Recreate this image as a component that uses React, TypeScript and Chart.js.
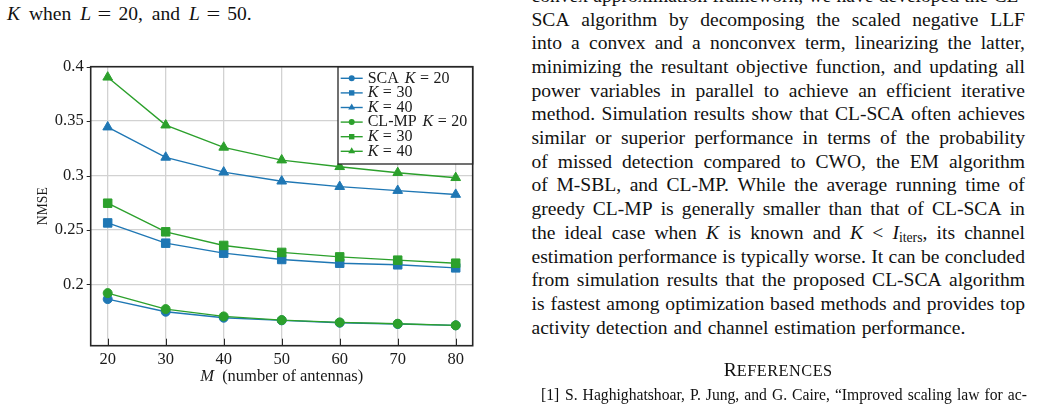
import React, { useEffect, useRef } from "react";
import { Chart, registerables } from "chart.js";

Chart.register(...registerables);

// ---------- chart data ----------
const antennas = [20, 30, 40, 50, 60, 70, 80];
const scaK20 = [0.1865, 0.1749, 0.1694, 0.167, 0.1648, 0.1636, 0.1624];
const scaK30 = [0.2565, 0.2379, 0.2287, 0.2229, 0.2195, 0.218, 0.2152];
const scaK40 = [0.3445, 0.3167, 0.3031, 0.2948, 0.2898, 0.2862, 0.2826];
const clmpK20 = [0.192, 0.1773, 0.1706, 0.1672, 0.1651, 0.1639, 0.1624];
const clmpK30 = [0.2746, 0.2483, 0.2358, 0.2294, 0.2253, 0.2223, 0.2195];
const clmpK40 = [0.3903, 0.3463, 0.3259, 0.3142, 0.3081, 0.3026, 0.298];
const seriesLabels = ["SCA K = 20", "K = 30", "K = 40", "CL-MP K = 20", "K = 30", "K = 40"];
const xTicks = [20, 30, 40, 50, 60, 70, 80];
const yTicks = [0.2, 0.25, 0.3, 0.35, 0.4];
const xTitle = "(number of antennas)";
const yTitle = "NMSE";

// ---------- page text ----------
const leftLine = "*K* when *L* = 20, and *L* = 50.";
const bodyLines = [
  "convex approximation framework, we have developed the CL-",
  "SCA algorithm by decomposing the scaled negative LLF",
  "into a convex and a nonconvex term, linearizing the latter,",
  "minimizing the resultant objective function, and updating all",
  "power variables in parallel to achieve an efficient iterative",
  "method. Simulation results show that CL-SCA often achieves",
  "similar or superior performance in terms of the probability",
  "of missed detection compared to CWO, the EM algorithm",
  "of M-SBL, and CL-MP. While the average running time of",
  "greedy CL-MP is generally smaller than that of CL-SCA in",
  "the ideal case when *K* is known and *K* < *I*~iters~, its channel",
  "estimation performance is typically worse. It can be concluded",
  "from simulation results that the proposed CL-SCA algorithm",
  "is fastest among optimization based methods and provides top",
  "activity detection and channel estimation performance.",
];
const refLine = "S. Haghighatshoar, P. Jung, and G. Caire, \u201cImproved scaling law for ac-";

const BLUE = "#1f77b4";
const GREEN = "#2ca02c";
const FONT = '"Liberation Serif", "Times New Roman", serif';

function rich(s: string) {
  const parts = s.split(/(\*[^*]+\*|~[^~]+~| = )/).filter((p) => p.length > 0);
  return parts.map((p, i) => {
    if (p === " = ")
      return (
        <span key={i} style={{ margin: "0 0.42em", display: "inline-block", transform: "scaleX(1.25)" }}>
          =
        </span>
      );
    if (p.startsWith("*")) return <i key={i}>{p.slice(1, -1)}</i>;
    if (p.startsWith("~"))
      return (
        <sub key={i} style={{ fontSize: "0.7em", verticalAlign: "-0.22em", lineHeight: 0 }}>
          {p.slice(1, -1)}
        </sub>
      );
    return <React.Fragment key={i}>{p}</React.Fragment>;
  });
}

const drawMarker = (ctx: CanvasRenderingContext2D, style: string, x: number, y: number, r: number) => {
  ctx.beginPath();
  if (style === "circle") {
    ctx.arc(x, y, r, 0, Math.PI * 2);
  } else if (style === "rect") {
    const s = r * Math.SQRT1_2;
    ctx.rect(x - s, y - s, 2 * s, 2 * s);
  } else {
    for (let k = 0; k < 3; k++) {
      const a = (k * 2 * Math.PI) / 3;
      const px = x + Math.sin(a) * r;
      const py = y - Math.cos(a) * r;
      if (k === 0) ctx.moveTo(px, py);
      else ctx.lineTo(px, py);
    }
    ctx.closePath();
  }
  ctx.fill();
};

const paperPlugin = {
  id: "paperDecor",
  afterDatasetsDraw(chart: any) {
    const { ctx, chartArea: a, scales } = chart;
    ctx.save();
    // tick marks
    ctx.strokeStyle = "#262626";
    ctx.lineWidth = 1;
    xTicks.forEach((v) => {
      const x = Math.round(scales.x.getPixelForValue(v)) + 0.5;
      ctx.beginPath();
      ctx.moveTo(x, a.bottom);
      ctx.lineTo(x, a.bottom - 7);
      ctx.stroke();
    });
    yTicks.forEach((v) => {
      const y = Math.round(scales.y.getPixelForValue(v)) + 0.5;
      ctx.beginPath();
      ctx.moveTo(a.left - 4, y);
      ctx.lineTo(a.left, y);
      ctx.stroke();
    });
    // legend
    const boxW = 134.7;
    const boxH = 97.3;
    const bx = a.right - boxW;
    const by = a.top;
    ctx.fillStyle = "#ffffff";
    ctx.fillRect(bx, by, boxW, boxH);
    ctx.lineWidth = 1.3;
    ctx.strokeStyle = "#262626";
    ctx.strokeRect(bx, by, boxW, boxH);
    const legendSizes: Record<string, number> = { circle: 3, rect: 3.8, triangle: 4 };
    chart.data.datasets.forEach((ds: any, i: number) => {
      const y = by + 11.6 + i * 14.6;
      ctx.strokeStyle = ds.borderColor;
      ctx.fillStyle = ds.borderColor;
      ctx.lineWidth = ds.borderWidth;
      ctx.beginPath();
      ctx.moveTo(bx + 2.7, y);
      ctx.lineTo(bx + 24.7, y);
      ctx.stroke();
      drawMarker(ctx, ds.pointStyle, bx + 13.7, y, legendSizes[ds.pointStyle]);
      let tx = bx + 29.7;
      ctx.fillStyle = "#1a1a1a";
      ctx.textBaseline = "middle";
      ctx.textAlign = "left";
      const parts = String(ds.label).split(/(K| = )/).filter((p: string) => p.length > 0);
      parts.forEach((p: string) => {
        ctx.font = `${p === "K" ? "italic " : ""}16px ${FONT}`;
        if (p === " = ") {
          tx += 4.5;
          ctx.fillText("=", tx, y);
          tx += ctx.measureText("=").width + 4.5;
        } else if (p.endsWith(" ")) {
          ctx.fillText(p, tx, y);
          tx += ctx.measureText(p).width + 2;
        } else {
          ctx.fillText(p, tx, y);
          tx += ctx.measureText(p).width;
        }
      });
    });
    // frame
    ctx.lineWidth = 1.6;
    ctx.strokeStyle = "#262626";
    ctx.strokeRect(a.left, a.top, a.right - a.left, a.bottom - a.top);
    ctx.restore();
  },
};

function NmseChart() {
  const ref = useRef<HTMLCanvasElement | null>(null);
  useEffect(() => {
    if (!ref.current) return;
    const mk = (i: number, vals: number[], color: string, style: string, radius: number, order: number) => ({
      label: seriesLabels[i],
      data: antennas.map((m, j) => ({ x: m, y: vals[j] })),
      borderColor: color,
      backgroundColor: color,
      borderWidth: 1.4,
      pointStyle: style,
      pointRadius: radius,
      pointBorderWidth: 1,
      pointBorderColor: color,
      pointBackgroundColor: color,
      tension: 0,
      order,
    });
    const chart = new Chart(ref.current, {
      type: "line",
      data: {
        datasets: [
          mk(0, scaK20, BLUE, "circle", 4.5, 1),
          mk(1, scaK30, BLUE, "rect", 6, 1),
          mk(2, scaK40, BLUE, "triangle", 5.6, 1),
          mk(3, clmpK20, GREEN, "circle", 4.5, 0),
          mk(4, clmpK30, GREEN, "rect", 6, 0),
          mk(5, clmpK40, GREEN, "triangle", 5.6, 0),
        ] as any,
      },
      options: {
        animation: false,
        responsive: false,
        events: [],
        layout: { padding: { top: 26.7, right: 37.3, left: 0, bottom: 0 } },
        plugins: { legend: { display: false }, tooltip: { enabled: false }, title: { display: false } },
        scales: {
          x: {
            type: "linear",
            min: 17.07,
            max: 82.93,
            afterBuildTicks: (s: any) => {
              s.ticks = xTicks.map((v) => ({ value: v }));
            },
            afterFit: (s: any) => {
              s.height = 60.3;
            },
            grid: { color: "#d2d2d2", lineWidth: 1.3, drawTicks: false },
            border: { display: false },
            ticks: {
              padding: 4,
              color: "#1a1a1a",
              font: { family: FONT, size: 16.5 },
              maxRotation: 0,
              autoSkip: false,
              callback: (v: any) => String(v),
            },
          },
          y: {
            type: "linear",
            min: 0.1437,
            max: 0.4,
            afterBuildTicks: (s: any) => {
              s.ticks = yTicks.map((v) => ({ value: v }));
            },
            afterFit: (s: any) => {
              s.width = 90.7;
            },
            grid: { color: "#d2d2d2", lineWidth: 1.3, drawTicks: false },
            border: { display: false },
            title: {
              display: true,
              text: yTitle,
              color: "#1a1a1a",
              font: { family: FONT, size: 13.7 },
              padding: { top: 34.8, bottom: 0 },
            },
            ticks: {
              padding: 7,
              color: "#1a1a1a",
              font: { family: FONT, size: 16.5 },
              autoSkip: false,
              callback: (v: any) => String(Math.round(v * 100) / 100),
            },
          },
        },
      } as any,
      plugins: [paperPlugin],
    });
    return () => chart.destroy();
  }, []);
  return (
    <canvas
      ref={ref}
      width={510}
      height={366}
      style={{ position: "absolute", left: 0, top: 40, width: 510, height: 366 }}
    />
  );
}

const BODY_SIZE = 19.56;
const LINE_H = 23.7;
const BASE_OFF = 18.45;

function JustLine({ text, top }: { text: string; top: number }) {
  const words = text.split(" ");
  return (
    <div
      style={{
        position: "absolute",
        left: 531.5,
        top,
        width: 493.5,
        display: "flex",
        justifyContent: "space-between",
        whiteSpace: "nowrap",
        lineHeight: `${LINE_H}px`,
      }}
    >
      {words.map((w, i) => (
        <span key={i}>{rich(w)}</span>
      ))}
    </div>
  );
}

export default function App() {
  return (
    <div
      style={{
        position: "absolute",
        left: 0,
        top: 0,
        width: 1042,
        height: 406,
        overflow: "hidden",
        background: "#ffffff",
        fontFamily: FONT,
        fontSize: BODY_SIZE,
        color: "#111",
      }}
    >
      <div
        style={{
          position: "absolute",
          left: 7,
          top: 20.5 - BASE_OFF,
          lineHeight: `${LINE_H}px`,
          whiteSpace: "nowrap",
          wordSpacing: 4,
        }}
      >
        {rich(leftLine)}
      </div>
      <NmseChart />
      <div
        style={{
          position: "absolute",
          left: 131.7,
          width: 300,
          top: 366,
          textAlign: "center",
          fontSize: 16.5,
          lineHeight: "20px",
          whiteSpace: "nowrap",
          color: "#1a1a1a",
        }}
      >
        <i>M</i>&nbsp;&nbsp;{xTitle}
      </div>
      {bodyLines.map((ln, i) => {
        const top = 26 + (i - 1) * LINE_H - BASE_OFF;
        if (i === bodyLines.length - 1) {
          return (
            <div
              key={i}
              style={{
                position: "absolute",
                left: 531.5,
                top,
                lineHeight: `${LINE_H}px`,
                whiteSpace: "nowrap",
                wordSpacing: 1,
              }}
            >
              {rich(ln)}
            </div>
          );
        }
        return <JustLine key={i} text={ln} top={top} />;
      })}
      <div
        style={{
          position: "absolute",
          left: 678.2,
          width: 200,
          top: 376.5 - BASE_OFF,
          textAlign: "center",
          lineHeight: `${LINE_H}px`,
          whiteSpace: "nowrap",
        }}
      >
        R<span style={{ fontSize: 16.3, letterSpacing: 0.5 }}>EFERENCES</span>
      </div>
      <div style={{ position: "absolute", left: 541, top: 399.5 - 14.8, fontSize: 15.65, lineHeight: "19px" }}>[1]</div>
      <div
        style={{
          position: "absolute",
          left: 565,
          top: 399.5 - 14.8,
          width: 462,
          fontSize: 15.65,
          lineHeight: "19px",
          display: "flex",
          justifyContent: "space-between",
          whiteSpace: "nowrap",
        }}
      >
        {refLine.split(" ").map((w, i) => (
          <span key={i}>{w}</span>
        ))}
      </div>
    </div>
  );
}
